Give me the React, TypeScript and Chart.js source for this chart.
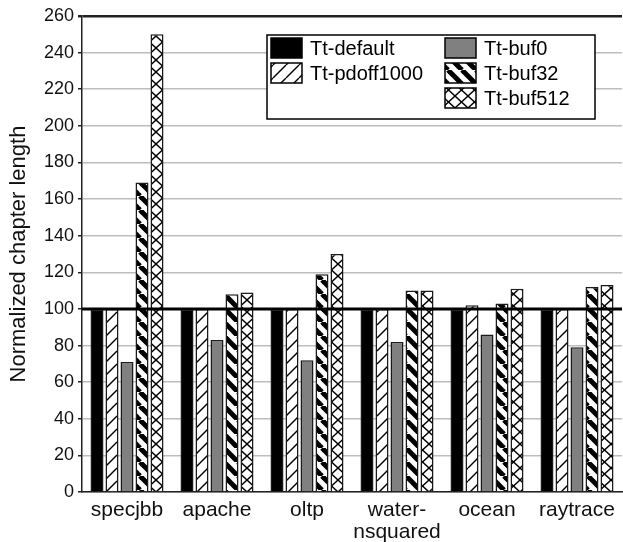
import React, { useEffect, useRef } from "react";
import { Chart, registerables } from "chart.js";

Chart.register(...registerables);

// ---- data ----
const categories: (string | string[])[] = ["specjbb", "apache", "oltp", ["water-", "nsquared"], "ocean", "raytrace"];
const seriesNames = ["Tt-default", "Tt-pdoff1000", "Tt-buf0", "Tt-buf32", "Tt-buf512"];
const ttDefault = [100, 100, 100, 100, 100, 100];
const ttPdoff1000 = [100, 100, 100, 100, 102, 100];
const ttBuf0 = [71, 83, 72, 82, 86, 79];
const ttBuf32 = [169, 108, 119, 110, 103, 112];
const ttBuf512 = [250, 109, 130, 110, 111, 113];
const yMin = 0;
const yMax = 260;
const yStep = 20;
const referenceValue = 100;
const yTitle = "Normalized chapter length";

const FONT = "'Liberation Sans', Arial, Helvetica, sans-serif";

function tile(w: number, h: number, draw: (c: CanvasRenderingContext2D) => void): CanvasPattern | string {
  const cv = document.createElement("canvas");
  cv.width = w;
  cv.height = h;
  const c = cv.getContext("2d")!;
  c.fillStyle = "#ffffff";
  c.fillRect(0, 0, w, h);
  draw(c);
  const ctx = document.createElement("canvas").getContext("2d")!;
  return ctx.createPattern(cv, "repeat") || "#fff";
}

function makeFills() {
  const slash = tile(13, 13, (c) => {
    c.strokeStyle = "#000";
    c.lineWidth = 1.4;
    for (const k of [-13, 0, 13]) {
      c.beginPath();
      c.moveTo(k, 13);
      c.lineTo(k + 13, 0);
      c.stroke();
    }
  });
  const back = tile(14, 14, (c) => {
    c.strokeStyle = "#000";
    c.lineWidth = 5;
    for (const k of [-14, 0, 14]) {
      c.beginPath();
      c.moveTo(k, 0);
      c.lineTo(k + 14, 14);
      c.stroke();
    }
  });
  const cross = tile(13, 12, (c) => {
    c.strokeStyle = "#000";
    c.lineWidth = 1.4;
    for (const k of [-13, 0, 13]) {
      c.beginPath();
      c.moveTo(k, 0);
      c.lineTo(k + 13, 12);
      c.stroke();
      c.beginPath();
      c.moveTo(k, 12);
      c.lineTo(k + 13, 0);
      c.stroke();
    }
  });
  return ["#000000", slash, "#808080", back, cross];
}

const legendPlugin = {
  id: "boxLegend",
  afterDraw(chart: any) {
    const { ctx, chartArea } = chart;
    const x0 = chartArea.left + 185;
    const y0 = chartArea.top + 19;
    const w = 328;
    const h = 84;
    ctx.save();
    ctx.fillStyle = "#fff";
    ctx.fillRect(x0, y0, w, h);
    ctx.strokeStyle = "#000";
    ctx.lineWidth = 1.5;
    ctx.strokeRect(x0, y0, w, h);
    const slots = [
      [0, 0],
      [0, 1],
      [1, 0],
      [1, 1],
      [1, 2],
    ];
    chart.data.datasets.forEach((ds: any, i: number) => {
      const [col, row] = slots[i];
      const sx = x0 + 4 + col * 174;
      const sy = y0 + 3 + row * 25;
      ctx.fillStyle = ds.backgroundColor;
      ctx.fillRect(sx, sy, 31, 20);
      ctx.strokeStyle = "#000";
      ctx.lineWidth = 1.5;
      ctx.strokeRect(sx, sy, 31, 20);
      ctx.fillStyle = "#000";
      ctx.font = `20px ${FONT}`;
      ctx.textBaseline = "middle";
      ctx.textAlign = "left";
      ctx.fillText(ds.label, sx + 39, sy + 11);
    });
    ctx.restore();
  },
};

const refLinePlugin = {
  id: "refLine",
  afterDatasetsDraw(chart: any) {
    const { ctx, chartArea, scales } = chart;
    const y = scales.y.getPixelForValue(referenceValue);
    ctx.save();
    ctx.strokeStyle = "#000";
    ctx.lineWidth = 3;
    ctx.beginPath();
    ctx.moveTo(chartArea.left, y);
    ctx.lineTo(chartArea.right, y);
    ctx.stroke();
    ctx.restore();
  },
};

export default function App() {
  const ref = useRef<HTMLCanvasElement>(null);
  useEffect(() => {
    document.body.style.margin = "0";
    const fills = makeFills();
    const values = [ttDefault, ttPdoff1000, ttBuf0, ttBuf32, ttBuf512];
    const chart = new Chart(ref.current!, {
      type: "bar",
      data: {
        labels: categories,
        datasets: seriesNames.map((name, i) => ({
          label: name,
          data: values[i],
          backgroundColor: fills[i] as any,
          borderColor: "#1a1a1a",
          borderWidth: 1.5,
          categoryPercentage: 75 / 90,
          barPercentage: 13 / 15,
        })),
      },
      options: {
        responsive: false,
        animation: false,
        devicePixelRatio: 1,
        layout: { padding: { top: 16, right: 1, left: 0, bottom: 0 } },
        plugins: {
          legend: { display: false },
          tooltip: { enabled: false },
        },
        scales: {
          x: {
            grid: { display: false },
            border: { display: true, color: "#222", width: 1.5 },
            ticks: {
              color: "#111",
              font: { size: 21, family: FONT, lineHeight: 1.05 },
              padding: -1,
              maxRotation: 0,
              autoSkip: false,
            },
            afterFit: (s: any) => {
              s.height = 50;
            },
          },
          y: {
            min: yMin,
            max: yMax,
            ticks: { stepSize: yStep, color: "#111", font: { size: 18, family: FONT }, padding: 4 },
            grid: {
              color: (c: any) => (c.tick && c.tick.value === yMax ? "#222" : "#bdbdbd"),
              lineWidth: (c: any) => (c.tick && c.tick.value === yMax ? 2.5 : 1.5),
              tickColor: "#222",
              tickLength: 4,
            },
            border: { display: true, color: "#222", width: 1.5 },
            title: {
              display: true,
              text: yTitle,
              color: "#111",
              font: { size: 22, family: FONT },
              padding: { top: 6, bottom: 0 },
            },
            afterFit: (s: any) => {
              s.width = 82;
            },
          },
        },
      },
      plugins: [refLinePlugin, legendPlugin],
    });
    return () => chart.destroy();
  }, []);
  return (
    <div style={{ width: 623, height: 542 }}>
      <canvas ref={ref} width={623} height={542} />
    </div>
  );
}
